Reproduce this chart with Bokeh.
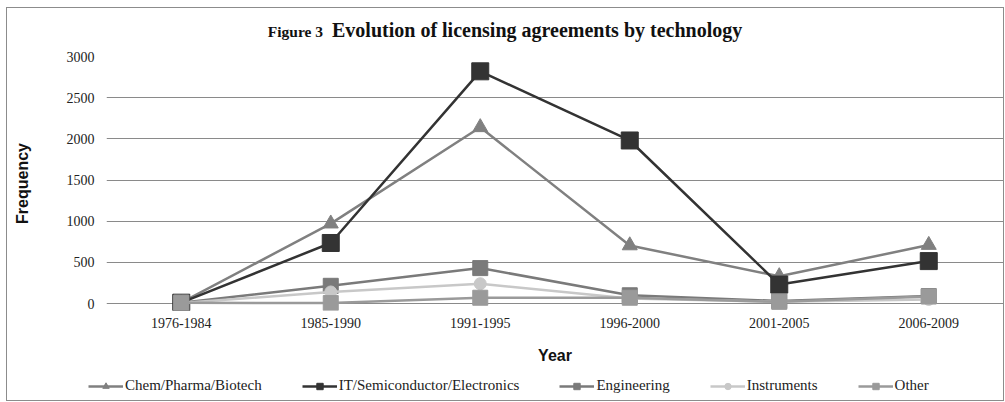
from bokeh.plotting import figure
from bokeh.models import Range1d, Legend, LegendItem, Div
from bokeh.layouts import column
from bokeh.embed import file_html
from bokeh.resources import INLINE

periods = ["1976-1984", "1985-1990", "1991-1995", "1996-2000", "2001-2005", "2006-2009"]
chem = [10, 970, 2140, 705, 330, 710]
it_semi = [10, 735, 2820, 1980, 230, 515]
engineering = [10, 215, 430, 100, 30, 90]
instruments = [5, 140, 240, 60, 20, 50]
other = [10, 5, 70, 70, 20, 85]
y_ticks = [0, 500, 1000, 1500, 2000, 2500, 3000]

SERIF = "Liberation Serif"
SANS = "Liberation Sans"

title = Div(
    text=('<div style="width:996px;text-align:center;line-height:44px;white-space:nowrap;'
          'color:#111111;font-family:\'Liberation Serif\',serif;font-weight:bold;">'
          '<span style="font-size:15.5px">Figure 3</span>&nbsp;&nbsp;&nbsp;'
          '<span style="font-size:20px">Evolution of licensing agreements by technology</span></div>'),
    width=996, height=40, margin=0)

p = figure(frame_width=897, frame_height=254, x_range=periods, y_range=Range1d(-85, 3000),
           output_backend="svg", toolbar_location=None,
           min_border_left=99, min_border_right=0, min_border_top=8, min_border_bottom=60)
p.margin = 0
p.outline_line_color = None
p.background_fill_color = "white"
p.border_fill_color = "white"

p.xgrid.grid_line_color = None
p.ygrid.grid_line_color = "#8a8a8a"
p.ygrid.grid_line_width = 1
p.yaxis.ticker = y_ticks

for ax in (p.xaxis[0], p.yaxis[0]):
    ax.axis_line_color = None
    ax.major_tick_line_color = None
    ax.minor_tick_line_color = None
    ax.major_tick_out = 0
    ax.major_tick_in = 0
    ax.minor_tick_out = 0
    ax.minor_tick_in = 0
    ax.major_label_text_font = SERIF
    ax.major_label_text_font_size = "14px"
    ax.major_label_text_color = "#222222"
    ax.axis_label_text_font = SANS
    ax.axis_label_text_font_style = "bold"
    ax.axis_label_text_color = "#111111"

p.yaxis.axis_label = "Frequency"
p.yaxis.axis_label_text_font_size = "16px"
p.yaxis.major_label_standoff = 12
p.yaxis.axis_label_standoff = 33
p.xaxis.axis_label = "Year"
p.xaxis.axis_label_text_font_size = "16px"
p.xaxis.major_label_standoff = 7
p.xaxis.axis_label_standoff = 16

series = [
    ("Chem/Pharma/Biotech", chem, "#808080", "triangle", 15),
    ("IT/Semiconductor/Electronics", it_semi, "#333333", "square", 17),
    ("Engineering", engineering, "#7a7a7a", "square", 15),
    ("Instruments", instruments, "#c8c8c8", "circle", 12),
    ("Other", other, "#9a9a9a", "square", 15),
]

for name, vals, color, marker, size in series:
    p.line(periods, vals, line_color=color, line_width=2.5)
    p.scatter(periods, vals, marker=marker, size=size, fill_color=color, line_color=color)

# Legend strip: same series drawn off-range so only the legend shows
lg = figure(frame_width=996, frame_height=30, x_range=periods, y_range=Range1d(50000, 50001),
            output_backend="svg", toolbar_location=None,
            min_border_left=0, min_border_right=0, min_border_top=0, min_border_bottom=0)
lg.margin = 0
lg.axis.visible = False
lg.grid.grid_line_color = None
lg.outline_line_color = None
lg.background_fill_color = "white"
lg.border_fill_color = "white"

items = []
for name, vals, color, marker, size in series:
    r1 = lg.line(periods, vals, line_color=color, line_width=2.5)
    r2 = lg.scatter(periods, vals, marker=marker, size=size, fill_color=color, line_color=color)
    items.append(LegendItem(label=name, renderers=[r1, r2]))

legend = Legend(items=items, orientation="horizontal", location=(81, 6),
                label_text_font=SERIF, label_text_font_size="15px", label_text_color="#222222",
                glyph_width=35, glyph_height=16, spacing=40, label_standoff=2,
                border_line_color=None, background_fill_alpha=0, padding=2, margin=0)
lg.add_layout(legend, "center")

layout = column(title, p, lg, spacing=0)
layout.margin = (7, 0, 0, 6)
layout.styles = {"border": "1px solid #8c8c8c", "background": "white"}

open("out.html", "w").write(file_html(layout, INLINE))
